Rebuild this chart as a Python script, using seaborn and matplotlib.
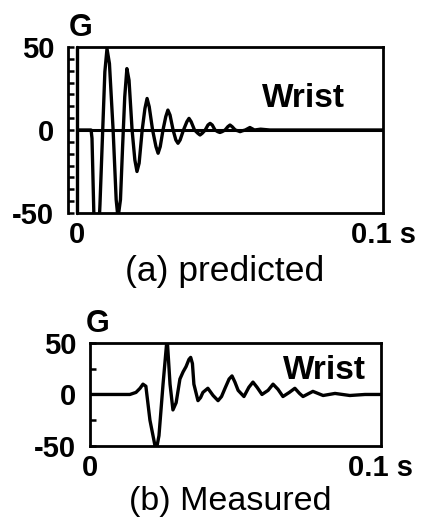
import numpy as np
import matplotlib
matplotlib.use("Agg")
import matplotlib.pyplot as plt
import seaborn as sns

# (a) predicted wrist acceleration, time in ms, acceleration in G
t_pred = [0, 4.6, 4.9, 5.5, 6.2, 7.0, 7.5, 8.3, 9.1, 9.8, 10.6, 11.8, 12.8, 13.4, 14.2, 14.9,
          15.6, 16.3, 17.0, 18.0, 18.9, 19.6, 20.3, 21.3, 22.2, 22.9, 23.6, 24.7, 25.8, 26.5,
          27.2, 28.1, 29.0, 29.7, 30.4, 31.4, 32.3, 33.0, 33.7, 34.8, 35.9, 36.6, 37.3, 38.4,
          39.5, 40.2, 40.9, 41.9, 42.8, 43.5, 44.2, 45.1, 46.0, 46.7, 47.4, 48.4, 49.3, 50.0,
          50.7, 51.7, 52.6, 53.3, 54.0, 55.0, 56.5, 58.0, 60.0, 63.0, 100.0]
g_pred = [0, 0, -5, -50, -75, -65, -45, -5, 35, 49, 40, 0, -42, -53, -42, -10,
          20, 37, 30, 0, -18, -25, -20, 0, 13, 19, 14, 0, -10, -14,
          -10, 0, 8, 12, 9, 0, -6, -8, -6, 0, 5, 7, 5, 0,
          -2, -3, -2, 0, 3, 4, 3, 0, -1, -1.5, -1, 0, 2, 3,
          2, 0, -0.5, -1, -0.5, 0, 1.5, 0, 0.5, 0, 0]

# (b) measured wrist acceleration
t_meas = [0, 13.7, 15.8, 17.2, 18.2, 19.2, 20.6, 22.7, 23.7, 25.1, 26.5, 27.5, 28.5, 29.6,
          30.9, 32.0, 33.0, 34.0, 34.6, 35.2, 35.7, 37.1, 38.0, 38.8, 40.5, 42.3, 44.0,
          45.2, 46.4, 47.8, 48.8, 49.8, 50.9, 52.9, 54.6, 56.0, 57.4, 59.1, 61.2, 62.9,
          64.6, 66.3, 68.5, 70.4, 72.0, 73.2, 76.6, 80.1, 84.2, 89.3, 94.5, 100.0]
g_meas = [0, 0, 2, 6, 10, 8, -25, -55, -40, 10, 55, 10, -15, -8,
          15, 22, 27, 34, 36, 30, 10, -6, -3, 2, 6, -1, -6,
          -2, 6, 15, 18, 12, 4, -2, 7, 12, 7, 0, 4, 10,
          5, -2, 2, 6, 1, -2, 3, -1, 1, -1, 0, 0]

y_ticks = [-50, 0, 50]
y_labels = ["-50", "0", "50"]
x_ticks = [0, 100]
x_labels = ["0", "0.1 s"]

sns.set_style("ticks")
plt.rcParams["font.family"] = ["Liberation Sans", "DejaVu Sans"]
plt.rcParams["text.color"] = "black"
plt.rcParams["xtick.color"] = "black"
plt.rcParams["ytick.color"] = "black"
plt.rcParams["xtick.labelcolor"] = "black"
plt.rcParams["ytick.labelcolor"] = "black"

fig = plt.figure(figsize=(4.29, 5.24), dpi=100)
ax1 = fig.add_axes([0.1795, 0.5935, 0.7133, 0.3168])
ax2 = fig.add_axes([0.2098, 0.1489, 0.6783, 0.1966])

# top panel: separate tick scale outside the box (set before the ticks)
ax1.spines["left"].set_position(("outward", 6.5))

lw = 2.4
for ax, t, g in [(ax1, t_pred, g_pred), (ax2, t_meas, g_meas)]:
    sns.lineplot(x=t, y=g, ax=ax, color="black", lw=lw, solid_joinstyle="round")
    ax.set_xlim(0, 100)
    ax.set_ylim(-50, 50)
    ax.set_xticks(x_ticks)
    ax.set_xticklabels(x_labels, fontsize=21, fontweight="bold")
    ax.set_yticks(y_ticks)
    ax.set_yticklabels(y_labels, fontsize=21, fontweight="bold")
    ax.tick_params(axis="x", length=0, pad=6)
    ax.set_xlabel("")
    ax.set_ylabel("")
    for s in ax.spines.values():
        s.set_visible(True)
        s.set_linewidth(2)
        s.set_color("black")

ax1.axhline(0, color="black", lw=2.2)
ax1.axvline(0, color="black", lw=2.4, clip_on=False)
ax1.set_yticks(np.linspace(-50, 50, 15), minor=True)
ax1.tick_params(axis="y", which="both", direction="in", length=4, width=1.8, pad=10)
ax1.text(60.5, 19, "Wrist", fontsize=24, fontweight="bold", va="center", ha="left")

ax2.set_yticks([-25, 25], minor=True)
ax2.tick_params(axis="y", which="both", direction="in", length=4, width=1.8, pad=10)
ax2.text(66.3, 23.6, "Wrist", fontsize=24, fontweight="bold", va="center", ha="left")

fig.text(0.189, 0.947, "G", fontsize=22, fontweight="bold", ha="center", va="center")
fig.text(0.228, 0.382, "G", fontsize=22, fontweight="bold", ha="center", va="center")
fig.text(0.524, 0.481, "(a) predicted", fontsize=25.5, ha="center", va="center")
fig.text(0.536, 0.042, "(b) Measured", fontsize=24.5, ha="center", va="center")

fig.savefig("out.png", dpi=100, facecolor="white")
